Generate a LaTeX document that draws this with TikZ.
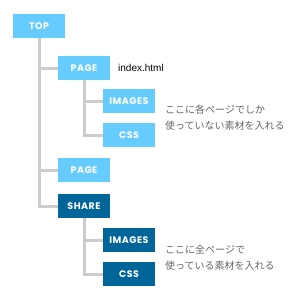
\documentclass[tikz,border=0pt]{standalone}
\usepackage{fontspec}
\setsansfont{Poppins}[LetterSpace=5]
\newfontfamily\jpfont{Noto Sans CJK JP}
\newfontfamily\latinfont{Liberation Sans}
\definecolor{lightblue}{HTML}{66CCFF}
\definecolor{darkblue}{HTML}{006699}
\definecolor{linegray}{HTML}{CCCCCC}
\definecolor{textgray}{HTML}{666666}
\begin{document}
\begin{tikzpicture}[x=1pt,y=-1pt,
  box/.style={rectangle, minimum width=52pt, minimum height=24pt, inner sep=0pt,
    text=white, font=\sffamily\bfseries\fontsize{9.5}{10}\selectfont},
  lbox/.style={box, fill=lightblue},
  dbox/.style={box, fill=darkblue},
  conn/.style={draw=linegray, line width=3pt},
  note/.style={anchor=west, align=left, inner sep=0pt, text=textgray,
    font=\jpfont\fontsize{10}{16}\selectfont},
  label/.style={anchor=west, inner sep=0pt, font=\latinfont\fontsize{10}{11}\selectfont}]
\useasboundingbox (0,0) rectangle (300,300);
\node[lbox] (top) at (39,26) {TOP};
\node[lbox] (page1) at (84,68) {PAGE};
\node[lbox] (img1) at (129,101) {IMAGES};
\node[lbox] (css1) at (129,135) {CSS};
\node[lbox] (page2) at (84,170) {PAGE};
\node[dbox] (share) at (84,206) {SHARE};
\node[dbox] (img2) at (129,240) {IMAGES};
\node[dbox] (css2) at (129,274) {CSS};
\path[conn] (top.south) |- (share.west);
\path[conn] (top.south |- page1.west) -- (page1.west);
\path[conn] (top.south |- page2.west) -- (page2.west);
\path[conn] (page1.south) |- (css1.west);
\path[conn] (page1.south |- img1.west) -- (img1.west);
\path[conn] (share.south) |- (css2.west);
\path[conn] (share.south |- img2.west) -- (img2.west);
\node[label] (idx) at (118,68) {index.html};
\node[note] (note1) at (165,118) {ここに各ページでしか\\使っていない素材を入れる};
\node[note] (note2) at (165,258) {ここに全ページで\\使っている素材を入れる};
\end{tikzpicture}
\end{document}
